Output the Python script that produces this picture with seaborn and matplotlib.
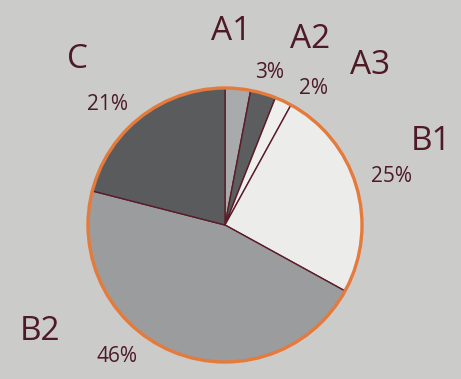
import matplotlib
matplotlib.use("Agg")
import matplotlib.pyplot as plt
from matplotlib.patches import Circle
import seaborn as sns

# Shares per group, clockwise from 12 o'clock
groups = ["A1", "A2", "A3", "B1", "B2", "C"]
shares = [3, 3, 2, 25, 46, 21]
percent_labels = ["3%", "2%", "25%", "46%", "21%"]
slice_colors = ["#a9aaab", "#5b5d5f", "#efefed", "#ececea", "#9a9c9e", "#595b5d"]

BG = "#cbccc9"
INK = "#4d1a26"
RING = "#e57a3c"

sns.set_theme(style="white")
plt.rcParams["font.family"] = ["Open Sans", "DejaVu Sans"]

fig = plt.figure(figsize=(4.61, 3.79), dpi=100, facecolor=BG)
ax = fig.add_axes([0, 0, 1, 1])
ax.set_facecolor(BG)

cx, cy, r = 225, 379 - 225, 137
ax.pie(shares, colors=slice_colors, startangle=90, counterclock=False,
       center=(cx, cy), radius=r, frame=True,
       wedgeprops=dict(edgecolor="#5a1c28", linewidth=1.0))
ax.set_xlim(0, 461)
ax.set_ylim(0, 379)
ax.set_aspect("equal")
ax.axis("off")
ax.add_patch(Circle((cx, cy), r, fill=False, edgecolor=RING, linewidth=2.4, zorder=5))

# Group names
name_pos = {"A1": (231, 32), "A2": (310, 39), "A3": (370, 66),
            "B1": (431, 141), "B2": (40, 332), "C": (77, 59)}
for g in groups:
    x, y = name_pos[g]
    ax.text(x, 379 - y, g, color=INK, fontsize=24, ha="center", va="center")

# Percentage labels (A1 and A2 share the 3% label)
pct_pos = [(270, 72), (313, 88), (391, 177), (117, 357), (107, 105)]
for txt, (x, y) in zip(percent_labels, pct_pos):
    ax.text(x, 379 - y, txt, color=INK, fontsize=15, ha="center", va="center")

fig.savefig("out.png", dpi=100, facecolor=BG)
